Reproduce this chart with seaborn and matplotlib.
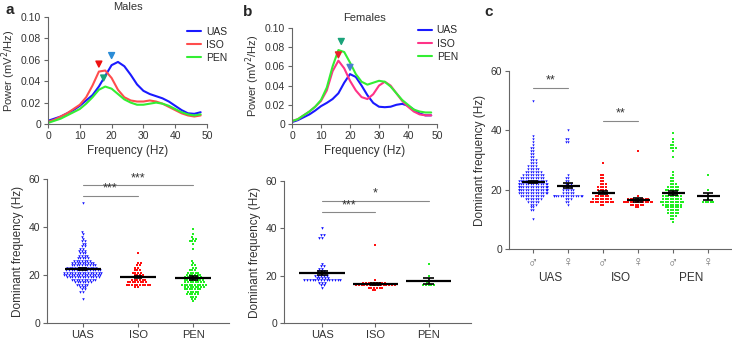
import numpy as np
import pandas as pd
import seaborn as sns
import matplotlib.pyplot as plt
import matplotlib.transforms as mtransforms

sns.set_style('ticks')
plt.rcParams['font.family'] = ['Liberation Sans', 'DejaVu Sans']
plt.rcParams['axes.edgecolor'] = '#666666'
plt.rcParams['xtick.color'] = '#666666'
plt.rcParams['ytick.color'] = '#666666'
plt.rcParams['xtick.labelcolor'] = '#333333'
plt.rcParams['ytick.labelcolor'] = '#333333'
plt.rcParams['axes.linewidth'] = 0.8

# ---- power spectra (a, b top) ----
freq_hz = list(range(0, 50, 2))
male_uas = [0.003, 0.005, 0.007, 0.010, 0.013, 0.017, 0.022, 0.027, 0.035, 0.045, 0.055, 0.058, 0.054,
            0.046, 0.037, 0.031, 0.028, 0.026, 0.024, 0.021, 0.017, 0.013, 0.010, 0.0095, 0.011]
male_iso = [0.002, 0.004, 0.007, 0.010, 0.014, 0.018, 0.025, 0.036, 0.049, 0.050, 0.043, 0.032, 0.025,
            0.022, 0.021, 0.021, 0.022, 0.021, 0.019, 0.016, 0.013, 0.010, 0.008, 0.007, 0.008]
male_pen = [0.001, 0.003, 0.005, 0.008, 0.011, 0.014, 0.019, 0.025, 0.032, 0.035, 0.033, 0.028, 0.023,
            0.020, 0.018, 0.018, 0.019, 0.020, 0.019, 0.017, 0.014, 0.011, 0.009, 0.008, 0.009]
fem_uas = [0.002, 0.004, 0.007, 0.010, 0.014, 0.0186, 0.022, 0.026, 0.032, 0.043, 0.052, 0.049, 0.040,
           0.030, 0.022, 0.018, 0.0175, 0.018, 0.020, 0.021, 0.019, 0.015, 0.011, 0.009, 0.009]
fem_iso = [0.003, 0.005, 0.009, 0.013, 0.018, 0.024, 0.035, 0.055, 0.066, 0.058, 0.045, 0.035, 0.028,
           0.026, 0.031, 0.040, 0.044, 0.040, 0.032, 0.024, 0.018, 0.013, 0.010, 0.009, 0.009]
fem_pen = [0.003, 0.005, 0.009, 0.013, 0.018, 0.025, 0.038, 0.060, 0.077, 0.075, 0.064, 0.052, 0.044,
           0.041, 0.043, 0.045, 0.044, 0.039, 0.032, 0.025, 0.020, 0.015, 0.013, 0.012, 0.012]

# peak markers (frequency, height)
male_peak_hz = [20, 16, 17.5]
male_peak_y = [0.064, 0.056, 0.043]
fem_peak_hz = [20, 16, 17]
fem_peak_y = [0.059, 0.072, 0.086]

power_ticks = [0, 0.02, 0.04, 0.06, 0.08, 0.10]
power_ticklabels = ['0', '0.02', '0.04', '0.06', '0.08', '0.10']

# ---- dominant frequency: value -> count ----
uas_m_vals = [10, 13, 14, 15, 16, 17, 18, 19, 20, 21, 22, 23, 24, 25, 26, 27, 28, 29, 30, 31, 32, 33, 34, 35, 36, 37, 38, 50]
uas_m_cnts = [1, 2, 2, 3, 5, 7, 10, 13, 15, 15, 14, 12, 10, 9, 7, 5, 4, 3, 3, 2, 2, 2, 2, 1, 1, 1, 1, 1]
iso_m_vals = [15, 16, 17, 18, 19, 20, 21, 22, 23, 24, 25, 29]
iso_m_cnts = [2, 10, 8, 6, 5, 4, 4, 3, 2, 2, 2, 1]
pen_m_vals = [9, 10, 11, 12, 13, 14, 15, 16, 17, 18, 19, 20, 21, 22, 23, 24, 25, 26, 31, 33, 34, 35, 36, 37, 39]
pen_m_cnts = [1, 2, 3, 5, 5, 7, 8, 10, 8, 8, 7, 6, 5, 3, 2, 2, 1, 1, 1, 1, 3, 2, 1, 1, 1]
uas_f_vals = [15, 16, 17, 18, 19, 20, 21, 22, 23, 24, 25, 36, 37, 40]
uas_f_cnts = [1, 2, 3, 14, 5, 5, 4, 3, 2, 2, 1, 2, 2, 1]
iso_f_vals = [14, 15, 16, 17, 18, 33]
iso_f_cnts = [2, 6, 15, 9, 1, 1]
pen_f_vals = [16, 17, 20, 25]
pen_f_cnts = [5, 1, 1, 1]

groups = ['UAS', 'ISO', 'PEN']
sexes = ['\u2642', '\u2640']
group_colors = {'UAS': '#1010ff', 'ISO': '#ff1010', 'PEN': '#22ee22'}
group_markers = {'UAS': 'v', 'ISO': 's', 'PEN': 's'}

rows = []
tables = {
    ('UAS', '\u2642'): (uas_m_vals, uas_m_cnts), ('ISO', '\u2642'): (iso_m_vals, iso_m_cnts),
    ('PEN', '\u2642'): (pen_m_vals, pen_m_cnts), ('UAS', '\u2640'): (uas_f_vals, uas_f_cnts),
    ('ISO', '\u2640'): (iso_f_vals, iso_f_cnts), ('PEN', '\u2640'): (pen_f_vals, pen_f_cnts),
}
for (g, s), (vals, cnts) in tables.items():
    for v in np.repeat(vals, cnts):
        rows.append({'group': g, 'sex': s, 'cat': g + s, 'freq': v})
df = pd.DataFrame(rows)

W, H = 732, 341
fig = plt.figure(figsize=(W / 100, H / 100), dpi=100)


def px_axes(x0, x1, ytop, ybot):
    return fig.add_axes([x0 / W, 1 - ybot / H, (x1 - x0) / W, (ybot - ytop) / H])


def spectrum(ax, curves, colors, peak_hz, peak_y, peak_colors, title, leg_anchor):
    for name, vals, c in zip(groups, curves, colors):
        sns.lineplot(x=freq_hz, y=vals, color=c, lw=1.5, label=name, ax=ax)
    ax.scatter(peak_hz, peak_y, marker='v', s=18, c=peak_colors, zorder=5)
    ax.set_xlim(0, 50)
    ax.set_ylim(0, 0.10)
    ax.set_xticks([0, 10, 20, 30, 40, 50])
    ax.set_yticks(power_ticks)
    ax.set_yticklabels(power_ticklabels)
    ax.tick_params(labelsize=7.5, length=3, width=0.8, pad=2)
    ax.set_xlabel('Frequency (Hz)', fontsize=8.5, color='#333333', labelpad=3)
    ax.set_ylabel('Power (mV$^2$/Hz)', fontsize=8, color='#333333', labelpad=2)
    ax.set_title(title, fontsize=8, color='#333333', pad=5)
    ax.legend(loc='upper left', bbox_to_anchor=leg_anchor, frameon=False, fontsize=7.5,
              handlelength=1.3, handletextpad=0.5, labelspacing=0.3, borderaxespad=0)
    sns.despine(ax=ax)


def swarm(ax, sub, order, colors, markers, size, halfw, capw):
    for cat in order:
        d = sub[sub['cat'] == cat]
        sns.swarmplot(data=d, x='cat', y='freq', order=order, color=colors[cat], marker=markers[cat],
                      size=size, linewidth=0, ax=ax, warn_thresh=1)
        i = order.index(cat)
        m = d['freq'].mean()
        s = d['freq'].std() / np.sqrt(len(d))
        ax.hlines(m, i - halfw, i + halfw, color='k', lw=1.6, zorder=6)
        ax.vlines(i, m - s, m + s, color='k', lw=1.2, zorder=6)
        ax.hlines([m - s, m + s], i - capw, i + capw, color='k', lw=1.2, zorder=6)
    ax.set_ylim(0, 60)
    ax.set_yticks([0, 20, 40, 60])
    ax.set_xlabel('')
    ax.set_ylabel('Dominant frequency (Hz)', fontsize=8.5, color='#333333', labelpad=3)
    ax.tick_params(labelsize=7.5, length=3, width=0.8, pad=2)
    sns.despine(ax=ax)


def sig(ax, x1, x2, y, label):
    ax.plot([x1, x2], [y, y], color='#888888', lw=0.8)
    ax.text((x1 + x2) / 2, y + 0.4, label, ha='center', va='bottom', fontsize=9, color='#333333')


# ---- a top ----
ax_a1 = px_axes(48, 207, 17, 124)
spectrum(ax_a1, [male_uas, male_iso, male_pen], ['#1a1aff', '#ff4d4d', '#33ee33'],
         male_peak_hz, male_peak_y, ['#2b8cd6', '#ee1111', '#1aa37a'], 'Males', (0.85, 0.95))

# ---- b top ----
ax_b1 = px_axes(292, 437, 28, 124)
spectrum(ax_b1, [fem_uas, fem_iso, fem_pen], ['#1a1aff', '#ff3388', '#33ee33'],
         fem_peak_hz, fem_peak_y, ['#4a7fd0', '#e8202a', '#1aa37a'], 'Females', (0.84, 1.07))

cat_colors = {g + s: group_colors[g] for g in groups for s in sexes}
cat_markers = {g + s: group_markers[g] for g in groups for s in sexes}

# ---- a bottom ----
ax_a2 = px_axes(47, 229, 179, 323)
male_order = [g + '\u2642' for g in groups]
swarm(ax_a2, df[df['sex'] == '\u2642'], male_order, cat_colors, cat_markers, 1.8, 0.33, 0.08)
ax_a2.set_xlim(-0.65, 2.65)
ax_a2.set_xticks([0, 1, 2])
ax_a2.set_xticklabels(groups, fontsize=8)
sig(ax_a2, 0, 1, 53, '***')
sig(ax_a2, 0, 2, 57.3, '***')

# ---- b bottom ----
ax_b2 = px_axes(284, 471, 181, 323)
fem_order = [g + '\u2640' for g in groups]
swarm(ax_b2, df[df['sex'] == '\u2640'], fem_order, cat_colors, cat_markers, 1.9, 0.43, 0.1)
ax_b2.set_xlim(-0.72, 2.8)
ax_b2.set_xticks([0, 1, 2])
ax_b2.set_xticklabels(groups, fontsize=8)
sig(ax_b2, 0, 1, 46.7, '***')
sig(ax_b2, 0, 2, 51.6, '*')

# ---- c ----
ax_c = px_axes(509, 731, 71, 249)
c_order = [g + s for g in groups for s in sexes]
swarm(ax_c, df, c_order, cat_colors, cat_markers, 1.7, 0.33, 0.15)
ax_c.set_xlim(-0.69, 5.65)
ax_c.set_xticks(range(6))
ax_c.set_xticklabels(sexes * 3, fontsize=10, color='#777777')
trans = mtransforms.blended_transform_factory(ax_c.transData, ax_c.transAxes)
for k, g in enumerate(groups):
    ax_c.text(2 * k + 0.5, -0.165, g, transform=trans, ha='center', va='center', fontsize=8.5, color='#333333')
sig(ax_c, 0, 1, 54.4, '**')
sig(ax_c, 2, 3, 43.2, '**')

# panel letters
for lab, x, y in [('a', 5, 10), ('b', 243, 12), ('c', 484, 12)]:
    fig.text(x / W, 1 - y / H, lab, fontsize=11, fontweight='bold', va='center', ha='left')

fig.savefig('out.png', dpi=100)
